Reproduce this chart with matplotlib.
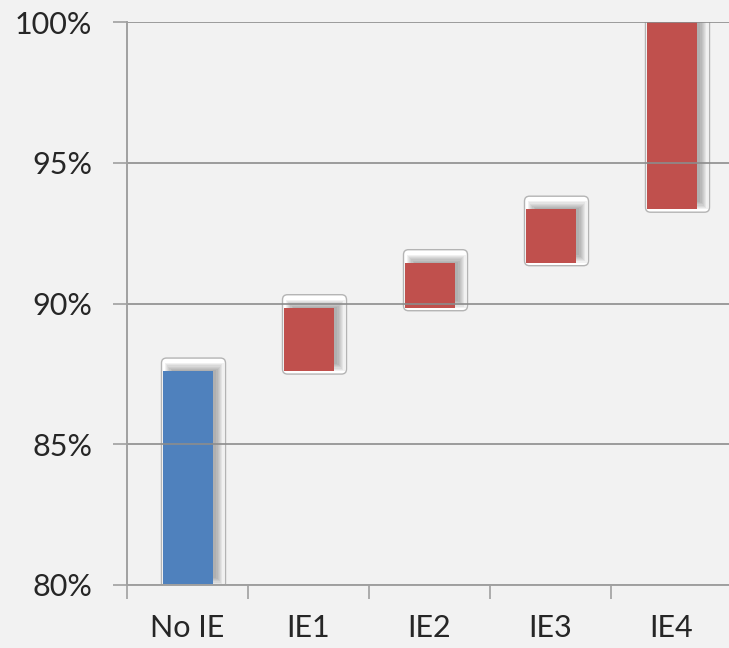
"""Waterfall chart: accuracy gain from No IE through IE1..IE4."""

import matplotlib

matplotlib.use("Agg")
import matplotlib.pyplot as plt
from matplotlib.patches import FancyBboxPatch, Rectangle
from matplotlib.ticker import FuncFormatter, MultipleLocator

categories = ["No IE", "IE1", "IE2", "IE3", "IE4"]
bar_bottoms = [80.0, 87.6, 89.85, 91.45, 93.35]
bar_tops = [87.6, 89.85, 91.45, 93.35, 100.0]
bar_colors = ["#4f81bd", "#c0504d", "#c0504d", "#c0504d", "#c0504d"]

BG = "#f2f2f2"
TEXT = "#262626"
PX_X = 1 / 121.0   # data units per pixel along x
PX_Y = 1 / 28.15   # percent per pixel along y
BAR_W = 50 * PX_X

plt.rcParams["font.family"] = ["Lato", "DejaVu Sans"]

fig = plt.figure(figsize=(7.29, 6.48), dpi=100, facecolor=BG)
ax = fig.add_axes([127 / 729, 1 - 585 / 648, 605 / 729, 563 / 648])
ax.set_facecolor(BG)
ax.set_xlim(-0.5, 4.5)
ax.set_ylim(80, 100)

for i, (lo, hi, color) in enumerate(zip(bar_bottoms, bar_tops, bar_colors)):
    x0 = i - BAR_W / 2
    # white highlight box behind each bar
    box = FancyBboxPatch(
        (x0 - 1 * PX_X, lo - 3 * PX_Y),
        BAR_W + 14 * PX_X,
        hi - lo + 16 * PX_Y,
        boxstyle=f"round,pad=0,rounding_size={5 * PX_X}",
        mutation_aspect=PX_Y / PX_X,
        facecolor="white",
        edgecolor="#b4b4b4",
        linewidth=1.0,
        zorder=0.5,
    )
    ax.add_patch(box)
    # soft shadow, offset up and right, built from stacked translucent layers
    for k in range(7):
        shrink = k * 1.2
        ax.add_patch(
            Rectangle(
                (x0 + (2 + shrink) * PX_X, lo + shrink * PX_Y),
                BAR_W + (9 - 2 * shrink) * PX_X,
                hi - lo + (8 - 2 * shrink) * PX_Y,
                facecolor="#404040",
                edgecolor="none",
                alpha=0.07,
                zorder=1.5,
            )
        )
    ax.bar(i, hi - lo, bottom=lo, width=BAR_W, color=color, edgecolor="none", zorder=2)

ax.yaxis.set_major_locator(MultipleLocator(5))
ax.yaxis.set_major_formatter(FuncFormatter(lambda v, _: f"{v:.0f}%"))
ax.grid(axis="y", color="#8c8c8c", linewidth=1.2, zorder=1)
ax.set_axisbelow(False)

ax.set_xticks([-0.5, 0.5, 1.5, 2.5, 3.5, 4.5])
ax.set_xticklabels([])
ax.set_xticks(range(len(categories)), minor=True)
ax.set_xticklabels(categories, minor=True)

ax.tick_params(axis="x", which="major", length=10, width=1.2, color="#a0a0a0", direction="out")
ax.tick_params(axis="x", which="minor", length=0, pad=21, labelsize=22, labelcolor=TEXT)
ax.tick_params(axis="y", length=10, width=1.2, color="#a0a0a0", pad=15, labelsize=22, labelcolor=TEXT)

for side in ("top", "right"):
    ax.spines[side].set_visible(False)
for side in ("left", "bottom"):
    ax.spines[side].set_color("#a0a0a0")
    ax.spines[side].set_linewidth(1.4)
    ax.spines[side].set_zorder(3)

fig.savefig("out.png", dpi=100, facecolor=BG)
